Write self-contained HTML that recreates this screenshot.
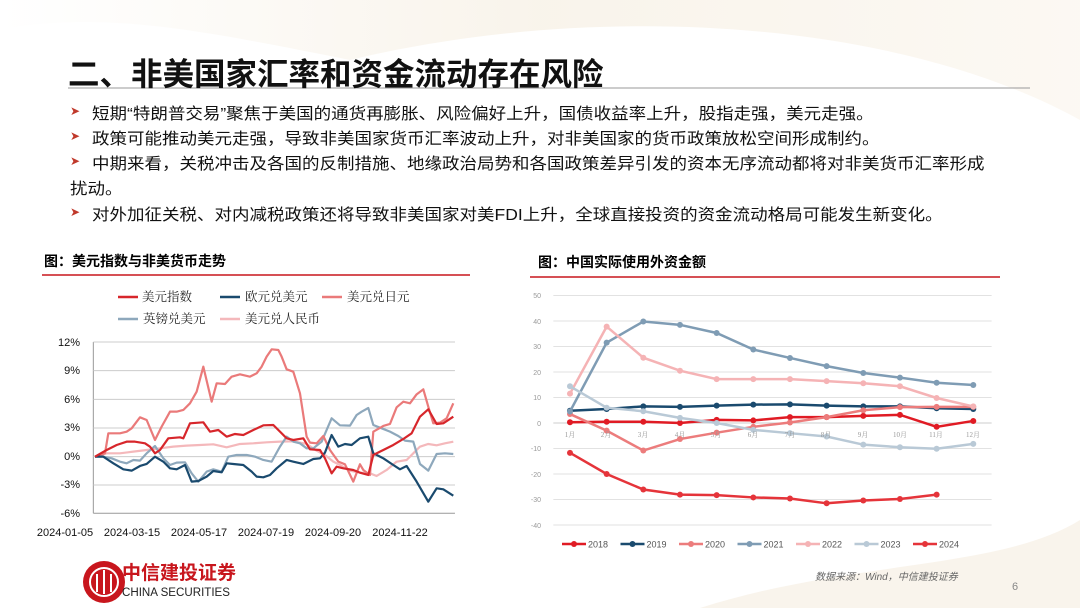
<!DOCTYPE html>
<html><head><meta charset="utf-8">
<style>
body{margin:0;width:1080px;height:608px;overflow:hidden;background:#fff;font-family:"Liberation Sans","Noto Sans CJK SC",sans-serif;position:relative}
.a{position:absolute;white-space:nowrap}
.b{font-size:17.5px;color:#111;left:92px;transform:scaleY(0.9);transform-origin:left top}
.ar{position:absolute;left:70px;color:#c0392b;font-size:12px}
</style></head><body>
<svg class="a" style="left:0;top:0" width="1080" height="608">
<defs><linearGradient id="g" x1="0" y1="0" x2="1" y2="0"><stop offset="0" stop-color="#fff"/><stop offset="0.5" stop-color="#f7f1e6"/><stop offset="1" stop-color="#fbf7f0"/></linearGradient></defs>
<path d="M0,0 H1080 V120 C900,20 600,0 350,60 C200,30 100,10 0,30Z" fill="url(#g)" opacity="0.8"/>
<path d="M700,608 C850,560 1000,570 1080,520 V608Z" fill="#f6efe4" opacity="0.7"/>
<line x1="68" y1="88" x2="1030" y2="88" stroke="#999" stroke-width="1"/>
<line x1="42" y1="275" x2="470" y2="275" stroke="#c8161d" stroke-width="1.5"/>
<line x1="530" y1="277" x2="1000" y2="277" stroke="#c8161d" stroke-width="1.5"/>
</svg>
<div class="a" style="left:68px;top:49px;font-size:31.5px;font-weight:bold;color:#111">二、非美国家汇率和资金流动存在风险</div>
<div class="ar" style="top:104px">➤</div><div class="a b" style="top:102px">短期“特朗普交易”聚焦于美国的通货再膨胀、风险偏好上升，国债收益率上升，股指走强，美元走强。</div>
<div class="ar" style="top:129px">➤</div><div class="a b" style="top:127px">政策可能推动美元走强，导致非美国家货币汇率波动上升，对非美国家的货币政策放松空间形成制约。</div>
<div class="ar" style="top:154px">➤</div><div class="a b" style="top:152px">中期来看，关税冲击及各国的反制措施、地缘政治局势和各国政策差异引发的资本无序流动都将对非美货币汇率形成</div>
<div class="a b" style="top:177px;left:70px">扰动。</div>
<div class="ar" style="top:205px">➤</div><div class="a b" style="top:203px">对外加征关税、对内减税政策还将导致非美国家对美FDI上升，全球直接投资的资金流动格局可能发生新变化。</div>
<div class="a" style="left:44px;top:251px;font-size:14px;font-weight:bold">图：美元指数与非美货币走势</div>
<div class="a" style="left:538px;top:252px;font-size:14px;font-weight:bold">图：中国实际使用外资金额</div>

<svg class="a" style="left:0;top:0" width="1080" height="608" font-family="Liberation Serif,Noto Serif CJK SC,serif">
<g id="L" transform="translate(40,280) scale(0.3333)"></g>
<g id="R" transform="translate(520,280) scale(0.3333)"></g>
<g font-size="11" fill="#111" text-anchor="end" font-family="Liberation Sans,sans-serif">
<text x="80" y="346">12%</text><text x="80" y="374">9%</text><text x="80" y="403">6%</text><text x="80" y="431">3%</text><text x="80" y="460">0%</text><text x="80" y="488">-3%</text><text x="80" y="517">-6%</text></g>
<g font-size="11" fill="#111" text-anchor="middle" font-family="Liberation Sans,sans-serif">
<text x="65" y="536">2024-01-05</text><text x="132" y="536">2024-03-15</text><text x="199" y="536">2024-05-17</text><text x="266" y="536">2024-07-19</text><text x="333" y="536">2024-09-20</text><text x="400" y="536">2024-11-22</text></g>
<g font-size="12.5" fill="#222">
<line x1="118" y1="297" x2="138" y2="297" stroke="#d7262b" stroke-width="2.5"/><text x="142" y="301">美元指数</text>
<line x1="220" y1="297" x2="240" y2="297" stroke="#1a4a6e" stroke-width="2.5"/><text x="245" y="301">欧元兑美元</text>
<line x1="322" y1="297" x2="342" y2="297" stroke="#ea7a7a" stroke-width="2.5"/><text x="347" y="301">美元兑日元</text>
<line x1="118" y1="319" x2="138" y2="319" stroke="#8ea8bc" stroke-width="2.5"/><text x="143" y="323">英镑兑美元</text>
<line x1="220" y1="319" x2="240" y2="319" stroke="#f4b8bb" stroke-width="2.5"/><text x="245" y="323">美元兑人民币</text></g>
<g font-size="7" fill="#999" text-anchor="end" font-family="Liberation Sans,sans-serif">
<text x="541" y="298">50</text><text x="541" y="324">40</text><text x="541" y="349">30</text><text x="541" y="375">20</text><text x="541" y="400">10</text><text x="541" y="426">0</text><text x="541" y="451">-10</text><text x="541" y="477">-20</text><text x="541" y="502">-30</text><text x="541" y="528">-40</text></g>
<g font-size="7" fill="#999" text-anchor="middle">
<text x="570" y="437">1月</text><text x="606" y="437">2月</text><text x="643" y="437">3月</text><text x="680" y="437">4月</text><text x="716" y="437">5月</text><text x="753" y="437">6月</text><text x="790" y="437">7月</text><text x="826" y="437">8月</text><text x="863" y="437">9月</text><text x="900" y="437">10月</text><text x="936" y="437">11月</text><text x="973" y="437">12月</text></g>
<g id="RL" font-size="9" fill="#555" font-family="Liberation Sans,sans-serif"></g>
<circle cx="104" cy="582" r="21" fill="#c8161d"/>
<circle cx="104" cy="582" r="14" fill="none" stroke="#fff" stroke-width="2"/>
<path d="M97,574 V592 M104,570 V594 M111,574 V592" stroke="#fff" stroke-width="2"/>
<text x="122" y="579" font-size="19" font-weight="bold" fill="#c8161d" font-family="Noto Sans CJK SC,sans-serif">中信建投证券</text>
<text x="122" y="596" font-size="11.5" fill="#222" font-family="Liberation Sans,sans-serif" textLength="108" lengthAdjust="spacingAndGlyphs">CHINA SECURITIES</text>
<text x="815" y="580" font-size="10" font-style="italic" fill="#666" font-family="Liberation Sans,Noto Sans CJK SC,sans-serif">数据来源：Wind，中信建投证券</text>
<text x="1012" y="590" font-size="11" fill="#888" font-family="Liberation Sans,sans-serif">6</text>
</svg>
<script>
var NS="http://www.w3.org/2000/svg";
function el(p,t,a){var e=document.createElementNS(NS,t);for(var k in a)e.setAttribute(k,a[k]);p.appendChild(e);return e;}
var L=document.getElementById("L");
el(L,"line",{x1:160,y1:186,x2:160,y2:700,stroke:"#999","vector-effect":"non-scaling-stroke"});
[186,272,358,444,530,615,700].forEach(function(y){el(L,"line",{x1:160,y1:y,x2:1245,y2:y,stroke:y==700?"#999":"#ccc","vector-effect":"non-scaling-stroke"});});
var ls=[
["#f4b8bb","165,530 200,520 240,520 280,515 320,510 360,505 400,500 440,497 480,495 520,493 560,502 600,492 640,490 680,487 720,485 760,484 800,492 830,512 855,525 880,545 900,555 930,572 960,578 990,580 1010,588 1040,570 1070,545 1100,540 1120,520 1140,500 1165,492 1190,496 1215,490 1240,485"],
["#8ea8bc","165,530 190,530 215,535 240,545 260,550 280,540 300,542 320,520 345,498 370,535 390,555 410,548 435,547 455,580 475,605 500,575 520,568 545,575 565,530 590,525 620,525 645,530 670,540 695,545 720,500 740,470 760,485 780,490 800,505 820,505 845,485 860,450 875,415 900,436 930,437 950,405 965,395 985,384 1000,435 1025,445 1050,455 1075,468 1095,482 1120,485 1140,552 1165,572 1190,522 1215,520 1240,522"],
["#ea7a7a","165,530 195,520 205,460 240,460 260,455 275,445 300,412 320,420 345,480 365,440 390,395 410,395 430,390 450,370 470,335 490,260 515,365 530,310 555,312 575,290 600,283 630,290 650,280 665,260 680,230 695,208 715,210 725,230 740,268 760,275 780,340 800,470 810,488 830,490 850,468 870,510 895,545 915,553 940,605 960,553 970,570 990,585 1000,455 1030,438 1050,432 1070,382 1090,365 1110,370 1130,343 1150,328 1165,380 1180,430 1200,428 1220,415 1240,370"],
["#1a4a6e","165,530 190,530 220,550 250,568 275,572 300,558 320,552 345,530 370,545 390,565 410,568 435,555 455,605 475,603 500,590 520,573 545,577 560,550 580,552 610,555 635,575 650,590 670,592 690,585 710,565 740,540 760,545 790,552 820,537 840,535 855,518 875,465 895,500 915,492 935,495 960,475 985,470 1000,520 1030,535 1060,555 1080,568 1100,558 1130,605 1165,665 1190,625 1210,628 1240,647"],
["#d7262b","165,530 200,510 230,495 260,485 285,485 315,490 330,500 345,520 360,510 385,475 420,472 430,475 450,430 490,427 510,455 535,450 560,470 585,462 610,465 640,450 670,436 700,435 720,455 740,475 760,480 790,475 810,508 840,510 855,535 875,580 890,560 910,565 940,570 960,578 985,585 1000,525 1030,510 1060,495 1090,477 1115,460 1140,410 1165,388 1190,432 1210,430 1240,410"]];
ls.forEach(function(s){el(L,"polyline",{points:s[1],fill:"none",stroke:s[0],"stroke-width":2.2,"vector-effect":"non-scaling-stroke","stroke-linejoin":"round"});});
var R=document.getElementById("R");
for(var v=50;v>=-40;v-=10){var y=429-v*7.65;el(R,"line",{x1:100,y1:y,x2:1415,y2:y,stroke:v==0?"#ccc":"#e2e2e2","vector-effect":"non-scaling-stroke"});}
var S=[["2018","#e01b24",[0.3,0.5,0.5,0,1.2,1,2.3,2.3,2.8,3.2,-1.5,0.8]],
["2019","#1a4a6e",[4.8,5.5,6.5,6.3,6.8,7.2,7.3,6.8,6.5,6.5,5.8,5.5]],
["2020","#ec7c7c",[3.5,-3,-10.8,-6.3,-3.8,-1.5,0.2,2.3,5,6.2,6.3,6.3]],
["2021","#7f9cb4",[4.5,31.5,39.8,38.5,35.3,28.8,25.5,22.3,19.6,17.8,15.8,14.9]],
["2022","#f5b3b5",[11.5,37.8,25.6,20.5,17.2,17.2,17.2,16.4,15.6,14.4,9.8,6.5]],
["2023","#b9c9d6",[14.4,6,4.6,2,0,-2.7,-4,-5.3,-8.5,-9.5,-10.1,-8.2]],
["2024","#e5343a",[-11.7,-20,-26.1,-28.1,-28.3,-29.2,-29.6,-31.5,-30.4,-29.8,-28.1]]];
var RL=document.getElementById("RL");
S.forEach(function(s,i){var pts=s[2].map(function(v,j){return (150+j*110)+","+(429-v*7.65);}).join(" ");
el(R,"polyline",{points:pts,fill:"none",stroke:s[1],"stroke-width":2.5,"vector-effect":"non-scaling-stroke"});
s[2].forEach(function(v,j){el(R,"circle",{cx:150+j*110,cy:429-v*7.65,r:9,fill:s[1]});});
var x=562+i*58.5;el(RL,"line",{x1:x,y1:544,x2:x+24,y2:544,stroke:s[1],"stroke-width":2.5});
el(RL,"circle",{cx:x+12,cy:544,r:3,fill:s[1]});
var t=el(RL,"text",{x:x+26,y:547.5});t.textContent=s[0];});
</script>
</body></html>
